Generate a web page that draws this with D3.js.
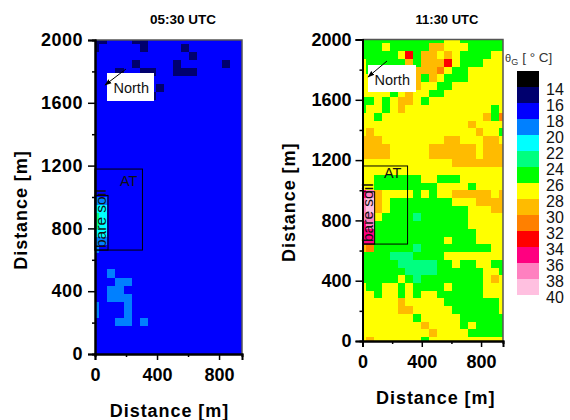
<!DOCTYPE html>
<meta charset="utf-8">
<style>
body { margin: 0; background: #fff; }
svg { display: block; font-family: "Liberation Sans", Arial, sans-serif; }
.tick-label text, .axis-title { font-weight: bold; fill: #000; }
.tick-label text { font-size: 18px; }
.axis-title { font-size: 18px; letter-spacing: 0.95px; }
.panel-title { font-weight: bold; }
.note { font-size: 14.5px; fill: #111; }
</style>
<body>
<script src="https://d3js.org/d3.v7.min.js"></script>
<script>

// colour classes of the legend, the characters in the grids below index into them
var binCodes = ["0", "1", "2", "3", "4", "5", "6", "7", "8", "9", "a", "b", "c", "d"];
var binColors = ["#000000", "#00006e", "#0000ff", "#0080ff", "#00ffff", "#00ff80", "#00ff00",
                 "#ffff00", "#ffbb00", "#ff8000", "#ff0000", "#ff0080", "#ff80c0", "#ffc0e0"];
var legendLabels = [14, 16, 18, 20, 22, 24, 26, 28, 30, 32, 34, 36, 38, 40];

var majorX = [0, 400, 800];
var minorX = [200, 600];
var majorY = [0, 400, 800, 1200, 1600, 2000];
var minorY = [200, 600, 1000, 1400, 1800];

// 05:30 UTC, rows from north (2000 m) to south (0 m)
var grid0530 = [
  "1122211222222222222",
  "1222221222212222222",
  "2222222222221222222",
  "2222212222122222122",
  "2221221122111222222",
  "2222222222222222222",
  "2222222212222222222",
  "2222222122222222222",
  "2222222222222222222",
  "2222222222222222222",
  "2222222222222222222",
  "2222222222222222222",
  "2222222222222222222",
  "2222222222222222222",
  "2222222222222222222",
  "2222222222222222222",
  "2222222222222222222",
  "2222222222222222222",
  "2222222222222222222",
  "2222222222222222222",
  "3322222222222222222",
  "4422222222222222222",
  "5422222222222222222",
  "5422222222222222222",
  "4422222222222222222",
  "3322222222222222222",
  "3222222222222222222",
  "2222222222222222222",
  "2222222222222222222",
  "2232222222222222222",
  "2223322222222222222",
  "2233222222222222222",
  "2233322222222222222",
  "3222322222222222222",
  "3222322222222222222",
  "2223323222222222222",
  "2222222222222222222",
  "2222222222222222222",
  "2222222222222222222",
  "2222222222222222222"
];

// 11:30 UTC
var grid1130 = [
  "6666666666677666666",
  "6667666668877766666",
  "666667a688787666677",
  "76666686888a7666777",
  "7666678888976677777",
  "7777788868766677777",
  "7777778877667777777",
  "7777678776677777777",
  "6676788767777777777",
  "6776787777777777767",
  "7767777777777777869",
  "7777777777777787777",
  "7877777777777778776",
  "8887777777788777887",
  "8888777778888887888",
  "8888777778888887888",
  "7777777777778888888",
  "7777777777777777777",
  "7766666677666777777",
  "7766666666777767777",
  "bc87777676778888878",
  "cd87666666667778888",
  "cd87666666666677788",
  "cc76666566666677777",
  "bc66666666666677777",
  "bb66666666666667777",
  "bb66666666676667777",
  "8966666566666666677",
  "6666555666677777777",
  "6666655555667667766",
  "6666665555666666776",
  "6666676566666666787",
  "7667767666676666777",
  "7767767677666666777",
  "7777787777766666667",
  "7777788777776666667",
  "7777777677777666666",
  "7777777787777676666",
  "7777777778777766666",
  "7877777767777777777"
];

// overlays in metres
var atBox0530 = {x1: 0, x2: 306, y1: 662, y2: 1178};
var atBox1130 = {x1: 0, x2: 304, y1: 643, y2: 1161};
var soilBox0530 = {x1: 0, x2: 84, y1: 662, y2: 1010};
var soilBox1130 = {x1: 0, x2: 82, y1: 643, y2: 990};

var svg = d3.select("body").append("svg")
    .attr("width", 570)
    .attr("height", 420);

svg.append("defs").append("marker")
    .attr("id", "head")
    .attr("viewBox", "0 0 10 10")
    .attr("refX", 9).attr("refY", 5)
    .attr("markerWidth", 7).attr("markerHeight", 7)
    .attr("orient", "auto")
  .append("path")
    .attr("d", "M0,1.5L10,5L0,8.5Z")
    .attr("fill", "#000");

var binColor = d3.scaleOrdinal().domain(binCodes).range(binColors);

function drawPanel(p) {
  var x = d3.scaleLinear().domain([0, 948]).range([p.left, p.right]).clamp(true);
  var y = d3.scaleLinear().domain([0, 2000]).range([p.bottom, p.top]).clamp(true);
  var nCols = p.grid[0].length, nRows = p.grid.length;
  var dx = 948 / (nCols - 1), dy = 2000 / (nRows - 1);

  var cells = [];
  p.grid.forEach(function(row, r) {
    row.split("").forEach(function(code, c) {
      cells.push({east: c * dx, north: 2000 - r * dy, code: code});
    });
  });

  svg.append("g").selectAll("rect")
      .data(cells)
    .enter().append("rect")
      .attr("shape-rendering", "crispEdges")
      .attr("x", function(d) { return x(d.east - dx / 2); })
      .attr("y", function(d) { return y(d.north + dy / 2); })
      .attr("width", function(d) { return x(d.east + dx / 2) - x(d.east - dx / 2); })
      .attr("height", function(d) { return y(d.north - dy / 2) - y(d.north + dy / 2); })
      .attr("fill", function(d) { return binColor(d.code); });

  // frame: grey on the far side, black on the axes
  svg.append("path")
      .attr("d", "M" + p.left + "," + p.top + "H" + p.right + "V" + p.bottom)
      .attr("fill", "none")
      .attr("stroke", "#555")
      .attr("stroke-width", 1.5);

  var notes = svg.append("g");
  [p.at, p.soil].forEach(function(b) {
    notes.append("rect")
        .attr("x", x(b.x1)).attr("y", y(b.y2))
        .attr("width", x(b.x2) - x(b.x1))
        .attr("height", y(b.y1) - y(b.y2))
        .attr("fill", "none")
        .attr("stroke", "#000")
        .attr("stroke-width", 1);
  });
  notes.append("text").attr("class", "note")
      .attr("x", p.atText[0]).attr("y", p.atText[1]).text("AT");
  notes.append("text").attr("class", "note")
      .attr("transform", "translate(" + p.soilText[0] + "," + p.soilText[1] + ") rotate(-90)")
      .style("font-size", "15.5px")
      .text("bare soil");
  notes.append("rect")
      .attr("x", p.northBox[0]).attr("y", p.northBox[1])
      .attr("width", p.northBox[2]).attr("height", p.northBox[3])
      .attr("fill", "#fff");
  notes.append("text").attr("class", "note")
      .attr("x", p.northBox[0] + 6.5).attr("y", p.northBox[1] + 19.5)
      .text("North");
  notes.append("line")
      .attr("x1", p.arrow[0]).attr("y1", p.arrow[1])
      .attr("x2", p.arrow[2]).attr("y2", p.arrow[3])
      .attr("stroke", "#000")
      .attr("marker-end", "url(#head)");

  // axes, labelled majors plus short unlabelled minors
  var axes = svg.append("g").attr("class", "tick-label");
  var xg = axes.append("g").attr("transform", "translate(0," + p.bottom + ")");
  xg.call(d3.axisBottom(x).tickValues(majorX).tickFormat(d3.format("d")).tickSize(6).tickPadding(8));
  var xm = axes.append("g").attr("transform", "translate(0," + p.bottom + ")");
  xm.call(d3.axisBottom(x).tickValues(minorX).tickSize(3).tickFormat(""));
  var yg = axes.append("g").attr("transform", "translate(" + p.left + ",0)");
  yg.call(d3.axisLeft(y).tickValues(majorY).tickFormat(d3.format("d")).tickSize(7).tickPadding(p.tickPad));
  yg.selectAll("text").style("letter-spacing", p.tickSpacing);
  var ym = axes.append("g").attr("transform", "translate(" + p.left + ",0)");
  ym.call(d3.axisLeft(y).tickValues(minorY).tickSize(3).tickFormat(""));
  axes.selectAll(".domain").attr("stroke-width", 2);
  axes.selectAll(".tick line").attr("stroke-width", 1.5);

  svg.append("text").attr("class", "axis-title")
      .attr("x", (p.left + p.right) / 2 + p.xTitleShift).attr("y", p.bottom + 63)
      .attr("text-anchor", "middle")
      .text("Distance [m]");
  svg.append("text").attr("class", "axis-title")
      .attr("transform", "translate(" + p.yTitleX + "," + ((p.top + p.bottom) / 2 + p.yTitleShift) + ") rotate(-90)")
      .attr("text-anchor", "middle")
      .text("Distance [m]");
  svg.append("text").attr("class", "panel-title")
      .attr("x", p.titleX).attr("y", 24)
      .attr("text-anchor", "middle")
      .attr("font-size", p.titleSize)
      .text(p.title);
}

drawPanel({
  grid: grid0530, title: "05:30 UTC", titleX: 183, titleSize: 13.5,
  left: 95, right: 242, top: 40, bottom: 354,
  at: atBox0530, soil: soilBox0530,
  atText: [120, 186], soilText: [106, 248],
  northBox: [107, 73, 47, 28], arrow: [126, 69, 105, 85],
  xTitleShift: 1, yTitleX: 27, yTitleShift: 13, tickPad: 5, tickSpacing: "0.5px"
});
drawPanel({
  grid: grid1130, title: "11:30 UTC", titleX: 447, titleSize: 13,
  left: 362.5, right: 503, top: 39.5, bottom: 341,
  at: atBox1130, soil: soilBox1130,
  atText: [384, 178], soilText: [373, 242],
  northBox: [368, 65, 48, 27], arrow: [387, 61, 368, 77],
  xTitleShift: 3, yTitleX: 295, yTitleShift: 12, tickPad: 4, tickSpacing: "0px"
});

// legend, labels sit on the lower edge of each swatch
var legendY = d3.scaleLinear().domain([14, 40]).range([87, 295]);
var legendStep = legendY(16) - legendY(14);
var legend = svg.append("g");
legend.selectAll("rect")
    .data(legendLabels)
  .enter().append("rect")
    .attr("shape-rendering", "crispEdges")
    .attr("x", 517)
    .attr("y", function(d) { return legendY(d) - legendStep; })
    .attr("width", 22)
    .attr("height", legendStep)
    .attr("fill", function(d, i) { return binColors[i]; });
legend.selectAll("text")
    .data(legendLabels)
  .enter().append("text")
    .attr("x", 546)
    .attr("y", function(d) { return legendY(d) + 8; })
    .attr("font-size", 16)
    .attr("fill", "#111")
    .text(function(d) { return d; });

var legendTitle = svg.append("text")
    .attr("x", 505).attr("y", 62)
    .attr("font-size", 13.5)
    .attr("fill", "#333");
legendTitle.append("tspan").attr("font-size", 11).text("θ");
legendTitle.append("tspan").attr("font-size", 9).attr("dy", 3).text("G");
legendTitle.append("tspan").attr("dy", -3).attr("dx", 4).text("[ ° C]");

</script>
</body>
